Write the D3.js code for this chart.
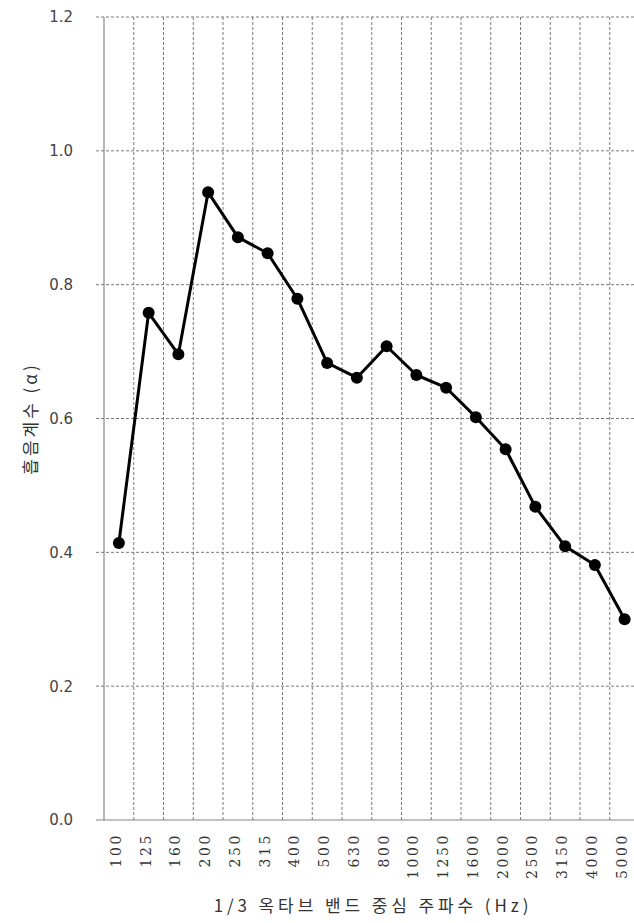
<!DOCTYPE html>
<html>
<head>
<meta charset="utf-8">
<script src="https://cdn.jsdelivr.net/npm/d3@7"></script>
<style>
  body { margin: 0; background: #fff; }
  svg { display: block; }
</style>
</head>
<body>
<div id="chart"></div>
<script>
// data
var bands = ["100", "125", "160", "200", "250", "315", "400", "500", "630", "800",
  "1000", "1250", "1600", "2000", "2500", "3150", "4000", "5000"];
var alpha = [0.414, 0.758, 0.696, 0.938, 0.871, 0.847, 0.779, 0.683, 0.661, 0.708,
  0.665, 0.646, 0.602, 0.554, 0.468, 0.409, 0.381, 0.300];
var yTicks = [0.0, 0.2, 0.4, 0.6, 0.8, 1.0, 1.2];

var svgWidth = 634;
var svgHeight = 923;

var margin = { top: 17, left: 104, bottom: 103 };
var width = 535.5;
var height = svgHeight - margin.top - margin.bottom;

var svg = d3.select("#chart")
  .append("svg")
  .attr("width", svgWidth)
  .attr("height", svgHeight);

var chartGroup = svg.append("g")
  .attr("transform", `translate(${margin.left}, ${margin.top})`);

// scales
var xBand = d3.scaleBand()
  .domain(bands)
  .range([0, width]);

var yLinearScale = d3.scaleLinear()
  .domain([0, 1.2])
  .range([height, 0]);

// horizontal grid lines (dashed), with small outward tick
chartGroup.append("g")
  .selectAll("line")
  .data(yTicks.filter(d => d > 0))
  .enter()
  .append("line")
  .attr("x1", -8)
  .attr("x2", width)
  .attr("y1", d => yLinearScale(d))
  .attr("y2", d => yLinearScale(d))
  .attr("stroke", "#7a7a7a")
  .attr("stroke-width", 1)
  .attr("stroke-dasharray", "3,2");

// vertical grid lines between categories
chartGroup.append("g")
  .selectAll("line")
  .data(bands.slice(1))
  .enter()
  .append("line")
  .attr("x1", d => xBand(d))
  .attr("x2", d => xBand(d))
  .attr("y1", 0)
  .attr("y2", height)
  .attr("stroke", "#7a7a7a")
  .attr("stroke-width", 1)
  .attr("stroke-dasharray", "3,2");

// axis lines
chartGroup.append("line")
  .attr("x1", 0).attr("x2", 0)
  .attr("y1", 0).attr("y2", height)
  .attr("stroke", "#868686")
  .attr("stroke-width", 1.2);

chartGroup.append("line")
  .attr("x1", -8).attr("x2", width)
  .attr("y1", height).attr("y2", height)
  .attr("stroke", "#868686")
  .attr("stroke-width", 1.2);

// y tick labels
chartGroup.append("g")
  .selectAll("text")
  .data(yTicks)
  .enter()
  .append("text")
  .attr("x", -31)
  .attr("y", d => yLinearScale(d))
  .attr("dy", "0.36em")
  .attr("text-anchor", "end")
  .attr("font-family", "DejaVu Sans, sans-serif")
  .attr("font-size", 15)
  .attr("fill", "#444")
  .text(d => d.toFixed(1));

// x tick labels, rotated
chartGroup.append("g")
  .selectAll("text")
  .data(bands)
  .enter()
  .append("text")
  .attr("transform", d => `translate(${xBand(d) + xBand.bandwidth() / 2 + 2}, ${height + 13}) rotate(-90)`)
  .attr("text-anchor", "end")
  .attr("font-family", "DejaVu Serif, serif")
  .attr("font-size", 14)
  .attr("letter-spacing", 2.6)
  .attr("fill", "#333")
  .text(d => d);

// line
var line = d3.line()
  .x((d, i) => xBand(bands[i]) + xBand.bandwidth() / 2)
  .y(d => yLinearScale(d));

chartGroup.append("path")
  .datum(alpha)
  .attr("d", line)
  .attr("fill", "none")
  .attr("stroke", "#000")
  .attr("stroke-width", 3)
  .attr("stroke-linejoin", "round");

chartGroup.append("g")
  .selectAll("circle")
  .data(alpha)
  .enter()
  .append("circle")
  .attr("cx", (d, i) => xBand(bands[i]) + xBand.bandwidth() / 2)
  .attr("cy", d => yLinearScale(d))
  .attr("r", 6)
  .attr("fill", "#000");

// axis titles
svg.append("text")
  .attr("x", 373)
  .attr("y", 912)
  .attr("text-anchor", "middle")
  .attr("font-family", "Noto Sans CJK KR, sans-serif")
  .attr("font-size", 17)
  .attr("letter-spacing", 3.9)
  .attr("fill", "#333")
  .text("1/3 옥타브 밴드 중심 주파수 (Hz)");

svg.append("text")
  .attr("transform", `translate(37, ${margin.top + height / 2}) rotate(-90)`)
  .attr("text-anchor", "middle")
  .attr("font-family", "Noto Sans CJK KR, sans-serif")
  .attr("font-size", 17)
  .attr("letter-spacing", 3)
  .attr("fill", "#333")
  .text("흡음계수 (α)");
</script>
</body>
</html>
